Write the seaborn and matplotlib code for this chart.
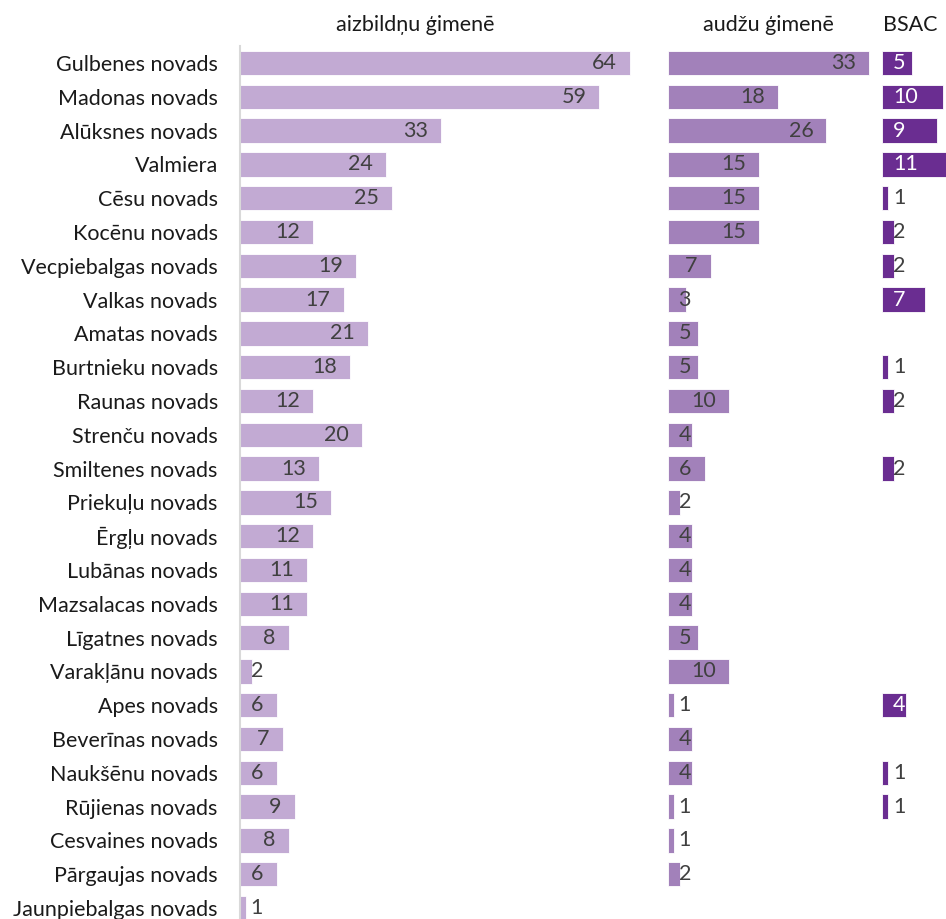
import matplotlib
matplotlib.use("Agg")
import matplotlib.pyplot as plt
import seaborn as sns
import numpy as np
import pandas as pd

regions = [
    "Gulbenes novads", "Madonas novads", "Alūksnes novads", "Valmiera",
    "Cēsu novads", "Kocēnu novads", "Vecpiebalgas novads", "Valkas novads",
    "Amatas novads", "Burtnieku novads", "Raunas novads", "Strenču novads",
    "Smiltenes novads", "Priekuļu novads", "Ērgļu novads", "Lubānas novads",
    "Mazsalacas novads", "Līgatnes novads", "Varakļānu novads", "Apes novads",
    "Beverīnas novads", "Naukšēnu novads", "Rūjienas novads", "Cesvaines novads",
    "Pārgaujas novads", "Jaunpiebalgas novads",
]
aizbildnu = [64, 59, 33, 24, 25, 12, 19, 17, 21, 18, 12, 20, 13, 15, 12, 11,
             11, 8, 2, 6, 7, 6, 9, 8, 6, 1]
audzu = [33, 18, 26, 15, 15, 15, 7, 3, 5, 5, 10, 4, 6, 2, 4, 4,
         4, 5, 10, 1, 4, 4, 1, 1, 2, np.nan]
bsac = [5, 10, 9, 11, 1, 2, 2, 7, np.nan, 1, 2, np.nan, 2, np.nan, np.nan, np.nan,
        np.nan, np.nan, np.nan, 4, np.nan, 1, 1, np.nan, np.nan, np.nan]
titles = ["aizbildņu ģimenē", "audžu ģimenē", "BSAC"]
colors = ["#c2aad3", "#a281ba", "#6a2d91"]

df = pd.DataFrame({"region": regions, titles[0]: aizbildnu,
                   titles[1]: audzu, titles[2]: bsac})

sns.set_theme(style="white")
plt.rcParams["font.family"] = ["Lato", "DejaVu Sans"]

W, H = 946, 919
fig = plt.figure(figsize=(W / 100, H / 100), dpi=100)

k = 6.09  # pixels per unit, same on all panels
row_top, row_step = 63, 33.8
n = len(regions)
ax_top = row_top - row_step / 2
ax_bot = row_top + row_step * (n - 0.5)

panels = [(240, 410), (668, 210), (882, 80)]
title_x = [415, 768, 910]
txt_gray = "#404040"
fs = 15.5

for i, (left, width) in enumerate(panels):
    ax = fig.add_axes([left / W, 1 - ax_bot / H, width / W, (ax_bot - ax_top) / H])
    col = titles[i]
    sns.barplot(data=df, y="region", x=col, order=regions, orient="h",
                color=colors[i], saturation=1, width=0.72, ax=ax,
                edgecolor="white", linewidth=0.6)
    ax.set_xlim(0, width / k)
    ax.set_ylim(n - 0.5, -0.5)
    ax.set_xlabel("")
    ax.set_ylabel("")
    ax.set_xticks([])
    for s in ["top", "right", "bottom"]:
        ax.spines[s].set_visible(False)
    if i == 0:
        ax.spines["left"].set_color("#d9d9d9")
        ax.spines["left"].set_linewidth(1.5)
        ax.tick_params(axis="y", length=0, pad=16, labelsize=fs, labelcolor="#1a1a1a")
    else:
        ax.spines["left"].set_visible(False)
        ax.set_yticks([])

    vals = df[col].values
    for j, v in enumerate(vals):
        if np.isnan(v):
            continue
        label = str(int(v))
        if i < 2:
            x = max(v - 13 / k, 23 / k)
            ax.text(x, j, label, ha="right", va="center", fontsize=fs,
                    color=txt_gray)
        else:
            c = "white" if v >= 4 else txt_gray
            ax.text(11 / k, j, label, ha="left", va="center", fontsize=fs,
                    color=c)

    fig.text(title_x[i] / W, 1 - 25 / H, titles[i], ha="center", va="center",
             fontsize=fs, color="#1a1a1a")

fig.savefig("out.png", dpi=100)
